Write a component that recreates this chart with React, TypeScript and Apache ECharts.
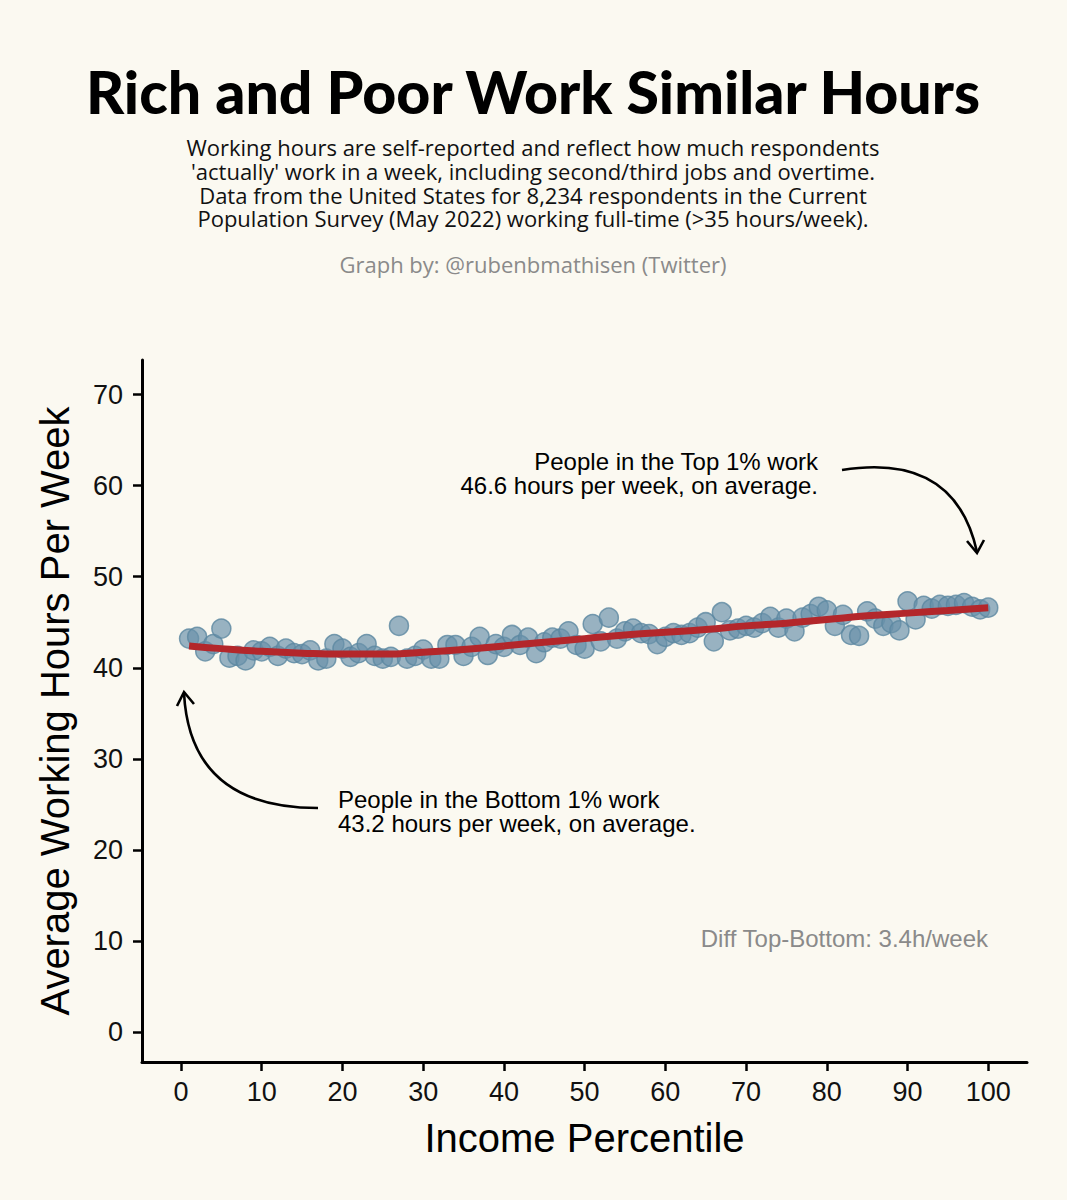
import { useEffect, useRef } from "react";
import * as echarts from "echarts";

// average weekly hours per income percentile (1..100)
const percentiles = Array.from({ length: 100 }, (_, i) => i + 1);
const hours = [
  43.2, 43.4, 41.8, 42.6, 44.3, 41.1, 41.3, 40.8, 41.9, 41.8,
  42.3, 41.3, 42.1, 41.6, 41.5, 41.9, 40.8, 41.0, 42.6, 42.1,
  41.2, 41.6, 42.6, 41.3, 41.0, 41.2, 44.6, 41.0, 41.3, 42.0,
  41.0, 41.0, 42.5, 42.5, 41.3, 42.3, 43.4, 41.4, 42.6, 42.3,
  43.6, 42.5, 43.3, 41.6, 42.8, 43.3, 43.2, 44.0, 42.5, 42.1,
  44.8, 42.9, 45.5, 43.2, 44.0, 44.3, 43.8, 43.7, 42.6, 43.4,
  43.8, 43.6, 43.8, 44.4, 45.0, 42.9, 46.1, 44.1, 44.3, 44.6,
  44.4, 44.9, 45.6, 44.4, 45.4, 44.0, 45.5, 45.9, 46.7, 46.3,
  44.6, 45.8, 43.6, 43.5, 46.2, 45.4, 44.6, 44.9, 44.1, 47.3,
  45.3, 46.8, 46.5, 46.9, 46.8, 46.9, 47.1, 46.7, 46.4, 46.6,
];

// smoothed trend line
const trendX = [1, 5, 10, 15, 20, 25, 30, 35, 40, 45, 50, 55, 60, 65, 70, 75, 80, 85, 90, 95, 100];
const trendY = [42.4, 42.1, 41.8, 41.6, 41.5, 41.5, 41.7, 42.0, 42.4, 42.8, 43.2, 43.6, 43.9, 44.2, 44.6, 44.9, 45.3, 45.7, 46.0, 46.3, 46.6];

const xTicks = [0, 10, 20, 30, 40, 50, 60, 70, 80, 90, 100];
const yTicks = [0, 10, 20, 30, 40, 50, 60, 70];

const subtitleLines = [
  "Working hours are self-reported and reflect how much respondents",
  "'actually' work in a week, including second/third jobs and overtime.",
  "Data from the United States for 8,234 respondents in the Current",
  "Population Survey (May 2022) working full-time (>35 hours/week).",
];

const BG = "#FBF9F1";
const SANS = "'Liberation Sans', Arial, sans-serif";

const App = () => {
  const chartRef = useRef<HTMLDivElement | null>(null);

  useEffect(() => {
    document.body.style.margin = "0";
    if (!chartRef.current) return;
    const myChart = echarts.init(chartRef.current, undefined, { renderer: "svg" });

    const subtitle = subtitleLines.map((line, i) => ({
      type: "text",
      x: 533,
      y: 147 + i * 23.8,
      style: {
        text: line,
        fontFamily: "'Open Sans'",
        fontSize: 22,
        fill: "#111",
        align: "center",
        verticalAlign: "middle",
      },
    }));

    const option = {
      animation: false,
      backgroundColor: BG,
      grid: { left: 142, right: 40, top: 360, bottom: 138 },
      xAxis: {
        type: "value",
        min: -4.83,
        max: 104.8,
        name: "Income Percentile",
        nameLocation: "middle",
        nameGap: 56,
        nameTextStyle: { fontFamily: SANS, fontSize: 40, color: "#000" },
        splitLine: { show: false },
        axisLine: { show: true, onZero: false, lineStyle: { color: "#000", width: 3 } },
        axisTick: { show: true, customValues: xTicks, length: 9, lineStyle: { color: "#000", width: 2.5 } },
        axisLabel: { customValues: xTicks, fontFamily: SANS, fontSize: 27, color: "#111", margin: 16 },
      },
      yAxis: {
        type: "value",
        min: -3.3,
        max: 73.8,
        name: "Average Working Hours Per Week",
        nameLocation: "middle",
        nameGap: 67,
        nameTextStyle: { fontFamily: SANS, fontSize: 40, color: "#000" },
        splitLine: { show: false },
        axisLine: { show: true, onZero: false, lineStyle: { color: "#000", width: 3 } },
        axisTick: { show: true, customValues: yTicks, length: 9, lineStyle: { color: "#000", width: 2.5 } },
        axisLabel: { customValues: yTicks, fontFamily: SANS, fontSize: 27, color: "#111", margin: 19 },
      },
      series: [
        {
          type: "scatter",
          data: percentiles.map((p, i) => [p, hours[i]]),
          symbolSize: 19,
          itemStyle: { color: "rgba(104,145,170,0.85)", borderColor: "#5B87A0", borderWidth: 1.5 },
          z: 2,
        },
        {
          type: "line",
          data: trendX.map((x, i) => [x, trendY[i]]),
          smooth: true,
          showSymbol: false,
          lineStyle: { color: "#B3272B", width: 7 },
          z: 3,
        },
      ],
      graphic: [
        {
          type: "text",
          x: 533,
          y: 91,
          style: {
            text: "Rich and Poor Work Similar Hours",
            fontFamily: "Lato",
            fontWeight: 900,
            fontSize: 59,
            fill: "#000",
            align: "center",
            verticalAlign: "middle",
          },
        },
        ...subtitle,
        {
          type: "text",
          x: 533,
          y: 264,
          style: {
            text: "Graph by: @rubenbmathisen (Twitter)",
            fontFamily: "'Open Sans'",
            fontSize: 22,
            fill: "#8a8a8a",
            align: "center",
            verticalAlign: "middle",
          },
        },
        {
          type: "text",
          x: 818,
          y: 449,
          style: {
            text: "People in the Top 1% work\n46.6 hours per week, on average.",
            fontFamily: SANS,
            fontSize: 24,
            lineHeight: 24,
            fill: "#000",
            align: "right",
          },
        },
        {
          type: "text",
          x: 338,
          y: 787,
          style: {
            text: "People in the Bottom 1% work\n43.2 hours per week, on average.",
            fontFamily: SANS,
            fontSize: 24,
            lineHeight: 24,
            fill: "#000",
            align: "left",
          },
        },
        {
          type: "text",
          x: 988,
          y: 938,
          style: {
            text: "Diff Top-Bottom: 3.4h/week",
            fontFamily: SANS,
            fontSize: 24,
            fill: "#8a8a8a",
            align: "right",
            verticalAlign: "middle",
          },
        },
        // top arrow
        {
          type: "bezierCurve",
          shape: { x1: 842, y1: 470, x2: 977, y2: 552, cpx1: 955, cpy1: 452 },
          style: { stroke: "#000", lineWidth: 2.6, fill: "none" },
        },
        {
          type: "polyline",
          shape: { points: [[967, 541], [977, 553], [984, 540]] },
          style: { stroke: "#000", lineWidth: 2.6, fill: "none" },
        },
        // bottom arrow
        {
          type: "bezierCurve",
          shape: { x1: 318, y1: 808, x2: 184, y2: 693, cpx1: 190, cpy1: 808 },
          style: { stroke: "#000", lineWidth: 2.6, fill: "none" },
        },
        {
          type: "polyline",
          shape: { points: [[177, 706], [184, 692], [194, 704]] },
          style: { stroke: "#000", lineWidth: 2.6, fill: "none" },
        },
      ],
    };

    myChart.setOption(option);
    return () => {
      myChart.dispose();
    };
  }, []);

  return <div ref={chartRef} style={{ width: 1067, height: 1200, background: BG }} />;
};

export default App;
